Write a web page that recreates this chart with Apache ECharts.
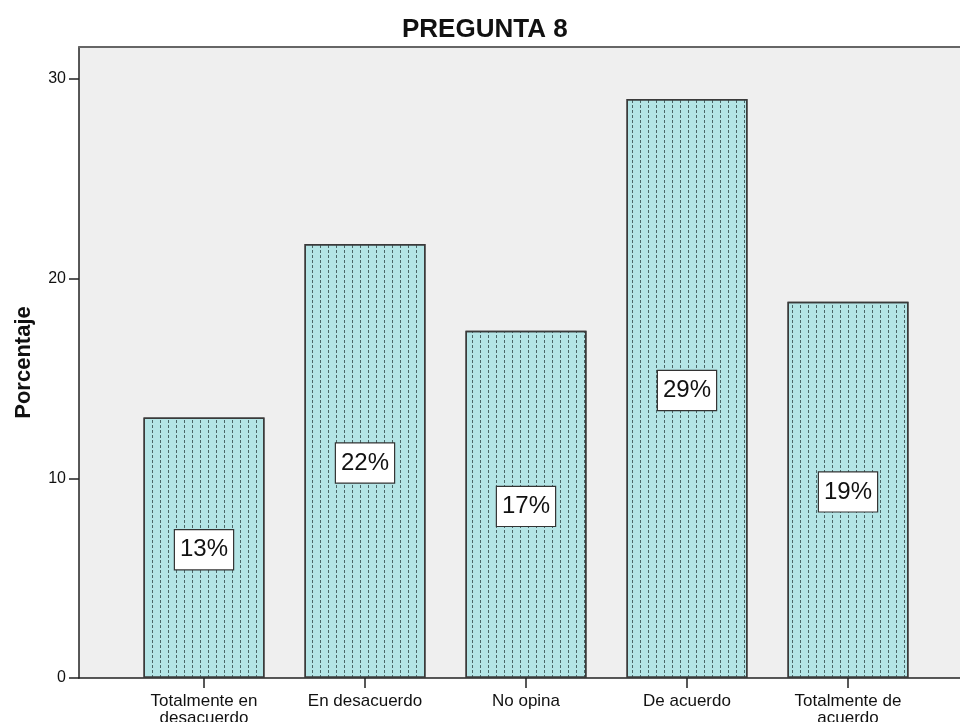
<!DOCTYPE html>
<html>
<head>
<meta charset="utf-8">
<script src="https://cdn.jsdelivr.net/npm/echarts@6/dist/echarts.min.js"></script>
<style>
html,body{margin:0;padding:0;background:#fff;}
#c{width:960px;height:722px;}
</style>
</head>
<body>
<div id="c"></div>
<script>
const categories = ['Totalmente en\ndesacuerdo', 'En desacuerdo', 'No opina', 'De acuerdo', 'Totalmente de\nacuerdo'];
const percentages = [13.04, 21.74, 17.39, 28.99, 18.84];
const yTicks = [0, 10, 20, 30];
const titleText = 'PREGUNTA 8';
const yName = 'Porcentaje';

const FONT = 'Liberation Sans, Arial, sans-serif';
const chart = echarts.init(document.getElementById('c'), null, {renderer: 'canvas'});
const yMax = 31.6;

chart.setOption({
  animation: false,
  backgroundColor: '#ffffff',
  title: {
    text: titleText,
    left: 397, top: 12, textAlign: 'left',
    textStyle: {fontFamily: FONT, fontSize: 26, fontWeight: 'bold', color: '#111'}
  },
  grid: [
    {left: 79, right: 0, top: 47, bottom: 44, show: true, backgroundColor: '#efefef', borderWidth: 0,
     containLabel: false, outerBoundsMode: 'none'},
    {left: 123.5, right: 31.5, top: 47, bottom: 44, containLabel: false, outerBoundsMode: 'none'}
  ],
  xAxis: [
    {gridIndex: 0, type: 'value', min: 0, max: 1, position: 'bottom',
     axisLine: {show: true, lineStyle: {color: '#222', width: 1.5}},
     axisTick: {show: false}, axisLabel: {show: false}, splitLine: {show: false}},
    {gridIndex: 0, type: 'value', min: 0, max: 1, position: 'top',
     axisLine: {show: true, lineStyle: {color: '#666', width: 2}},
     axisTick: {show: false}, axisLabel: {show: false}, splitLine: {show: false}},
    {gridIndex: 1, type: 'category', data: categories, position: 'bottom',
     axisLine: {show: false},
     axisTick: {show: true, alignWithLabel: true, length: 10, lineStyle: {color: '#222', width: 1.5}},
     axisLabel: {fontFamily: FONT, fontSize: 17, color: '#111', margin: 15, lineHeight: 17, interval: 0},
     splitLine: {show: false}}
  ],
  yAxis: [
    {gridIndex: 0, type: 'value', min: 0, max: yMax, interval: 10,
     axisLine: {show: true, lineStyle: {color: '#222', width: 1.5}},
     axisTick: {show: true, length: 10, lineStyle: {color: '#222', width: 1.5}, customValues: yTicks},
     axisLabel: {fontFamily: FONT, fontSize: 16, color: '#111', margin: 13, customValues: yTicks},
     splitLine: {show: false},
     name: yName, nameLocation: 'middle', nameGap: 44, nameRotate: 90,
     nameTextStyle: {fontFamily: FONT, fontSize: 22, fontWeight: 'bold', color: '#111'}},
    {gridIndex: 1, type: 'value', min: 0, max: yMax, show: false}
  ],
  series: [{
    type: 'bar',
    xAxisIndex: 2, yAxisIndex: 1,
    data: percentages,
    barWidth: 121,
    itemStyle: {
      color: '#b4e5e6',
      borderColor: '#3a3a3a',
      borderWidth: 1.5,
      decal: {
        symbol: 'rect',
        symbolSize: 1,
        color: 'rgba(55,80,80,0.85)',
        dashArrayX: [1, 7],
        dashArrayY: [2.3, 2],
        rotation: 0
      }
    },
    label: {
      show: true,
      position: 'inside',
      offset: [0, 2],
      formatter: p => Math.round(p.value) + '%',
      fontFamily: FONT, fontSize: 24, color: '#111',
      backgroundColor: '#ffffff', borderColor: '#333', borderWidth: 1.2,
      padding: [8, 5, 7, 5]
    }
  }]
});
</script>
</body>
</html>
